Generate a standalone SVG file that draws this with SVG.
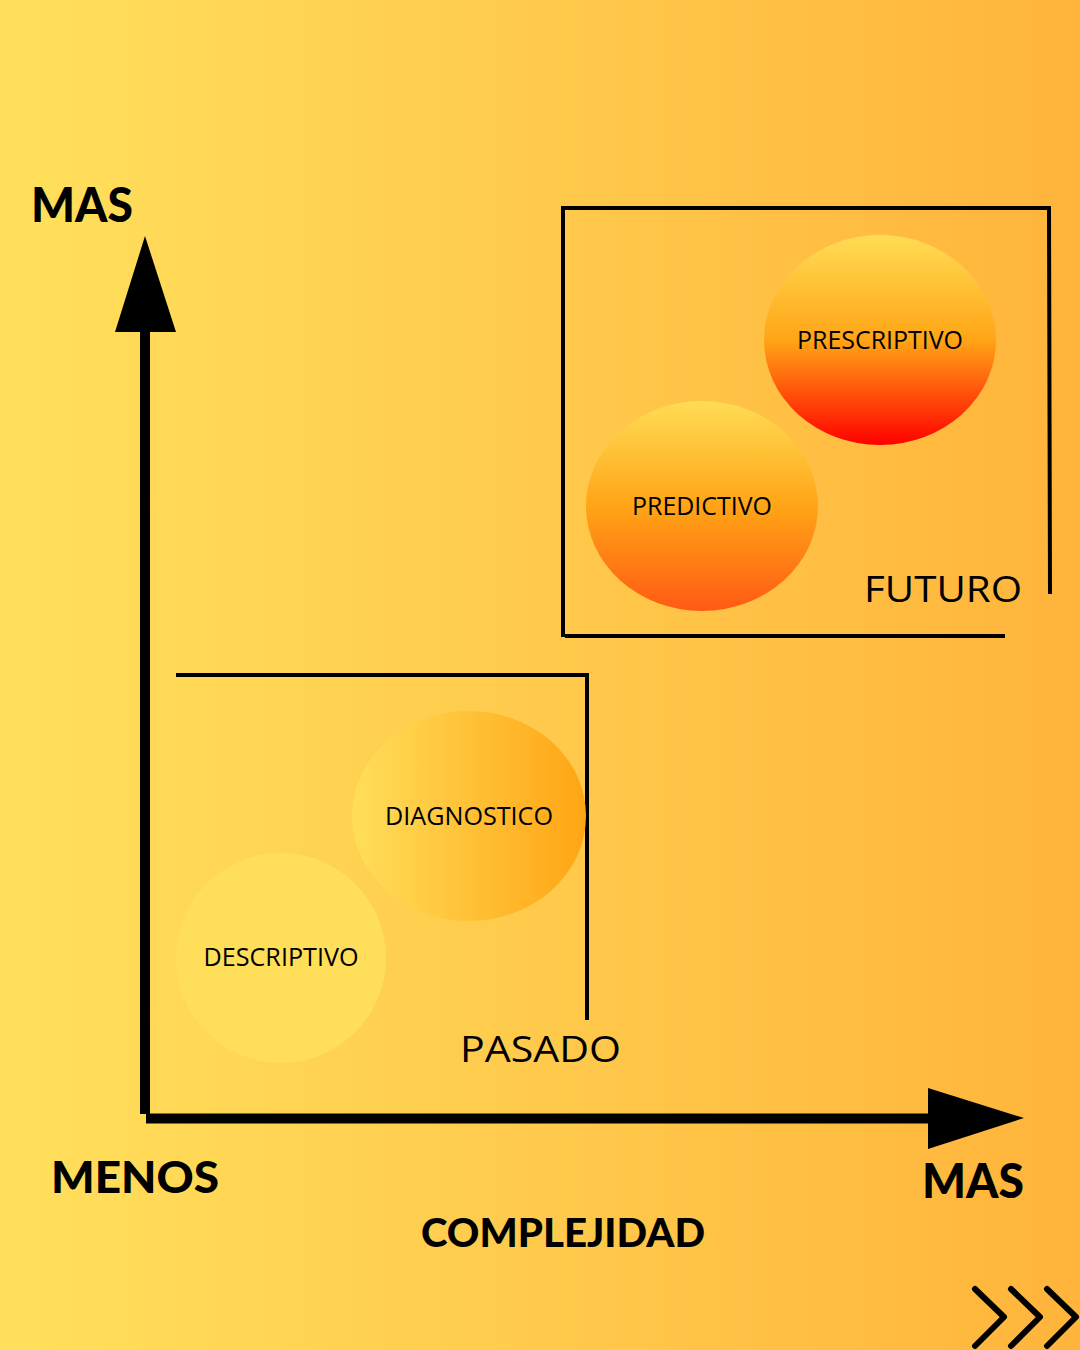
<svg xmlns="http://www.w3.org/2000/svg" width="1080" height="1350" viewBox="0 0 1080 1350">
<defs>
<linearGradient id="bg" x1="0" y1="0" x2="1" y2="0">
<stop offset="0" stop-color="#FFE05C"/>
<stop offset="1" stop-color="#FFB43B"/>
</linearGradient>
<linearGradient id="gPres" x1="0" y1="0" x2="0" y2="1">
<stop offset="0" stop-color="#FFDC55"/>
<stop offset="0.5" stop-color="#FFA516"/>
<stop offset="1" stop-color="#FF0000"/>
</linearGradient>
<linearGradient id="gPred" x1="0" y1="0" x2="0" y2="1">
<stop offset="0" stop-color="#FFDC55"/>
<stop offset="0.5" stop-color="#FFA516"/>
<stop offset="1" stop-color="#FF5A14"/>
</linearGradient>
<linearGradient id="gDiag" x1="0" y1="0" x2="1" y2="0">
<stop offset="0" stop-color="#FFDE5A"/>
<stop offset="1" stop-color="#FFA514"/>
</linearGradient>
<style>
.ln{stroke:#000;stroke-width:4;fill:none}
.ax{stroke:#000;stroke-width:10;fill:none}
.lbl{font-family:"Open Sans","Liberation Sans",sans-serif;font-size:25px;fill:#000;text-anchor:middle}
.era{font-family:"Open Sans","Liberation Sans",sans-serif;font-weight:400;font-size:37px;fill:#000}
.bold{font-family:Lato,"Liberation Sans",sans-serif;font-weight:900;fill:#000}
.chev{stroke:#000;stroke-width:6;fill:none;stroke-linecap:round;stroke-linejoin:round}
</style>
</defs>
<rect width="1080" height="1350" fill="url(#bg)"/>
<g id="connectors">
<line class="ax" x1="145" y1="320" x2="145" y2="1114"/>
<polygon points="145,236 176,332 115,332" fill="#000"/>
<line class="ax" x1="146" y1="1118.5" x2="940" y2="1118.5"/>
<polygon points="1024,1118 928,1088 928,1149" fill="#000"/>
</g>
<g id="futuro-box">
<polyline class="ln" points="563,637 563,208 1049,208 1050,594"/>
<line class="ln" x1="565" y1="636" x2="1005" y2="636"/>
<text class="era" x="864" y="602" textLength="158" lengthAdjust="spacingAndGlyphs">FUTURO</text>
</g>
<g id="pasado-box">
<polyline class="ln" points="176,675 587,675 587,1020"/>
<text class="era" x="460" y="1062" textLength="161" lengthAdjust="spacingAndGlyphs">PASADO</text>
</g>
<g id="prescriptivo">
<ellipse cx="880" cy="340" rx="116" ry="105" fill="url(#gPres)"/>
<text class="lbl" x="880" y="349" textLength="166" lengthAdjust="spacingAndGlyphs">PRESCRIPTIVO</text>
</g>
<g id="predictivo">
<ellipse cx="702" cy="506" rx="116" ry="105" fill="url(#gPred)"/>
<text class="lbl" x="702" y="515" textLength="140" lengthAdjust="spacingAndGlyphs">PREDICTIVO</text>
</g>
<g id="diagnostico">
<ellipse cx="469" cy="816" rx="117" ry="105" fill="url(#gDiag)"/>
<text class="lbl" x="469" y="825" textLength="168" lengthAdjust="spacingAndGlyphs">DIAGNOSTICO</text>
</g>
<g id="descriptivo">
<circle cx="281" cy="958" r="105" fill="#FFDE5A"/>
<text class="lbl" x="281" y="966" textLength="155" lengthAdjust="spacingAndGlyphs">DESCRIPTIVO</text>
</g>
<g id="labels">
<text class="bold" x="31" y="222" font-size="47" textLength="102" lengthAdjust="spacingAndGlyphs">MAS</text>
<text class="bold" x="51" y="1193" font-size="44" textLength="168" lengthAdjust="spacingAndGlyphs">MENOS</text>
<text class="bold" x="922" y="1198" font-size="47" textLength="102" lengthAdjust="spacingAndGlyphs">MAS</text>
<text class="bold" x="421" y="1247" font-size="40" textLength="284" lengthAdjust="spacingAndGlyphs">COMPLEJIDAD</text>
</g>
<g id="chevrons">
<polyline class="chev" points="975,1289 1004,1317 975,1346"/>
<polyline class="chev" points="1011,1289 1040,1317 1011,1346"/>
<polyline class="chev" points="1047,1289 1076,1317 1047,1346"/>
</g>
</svg>
